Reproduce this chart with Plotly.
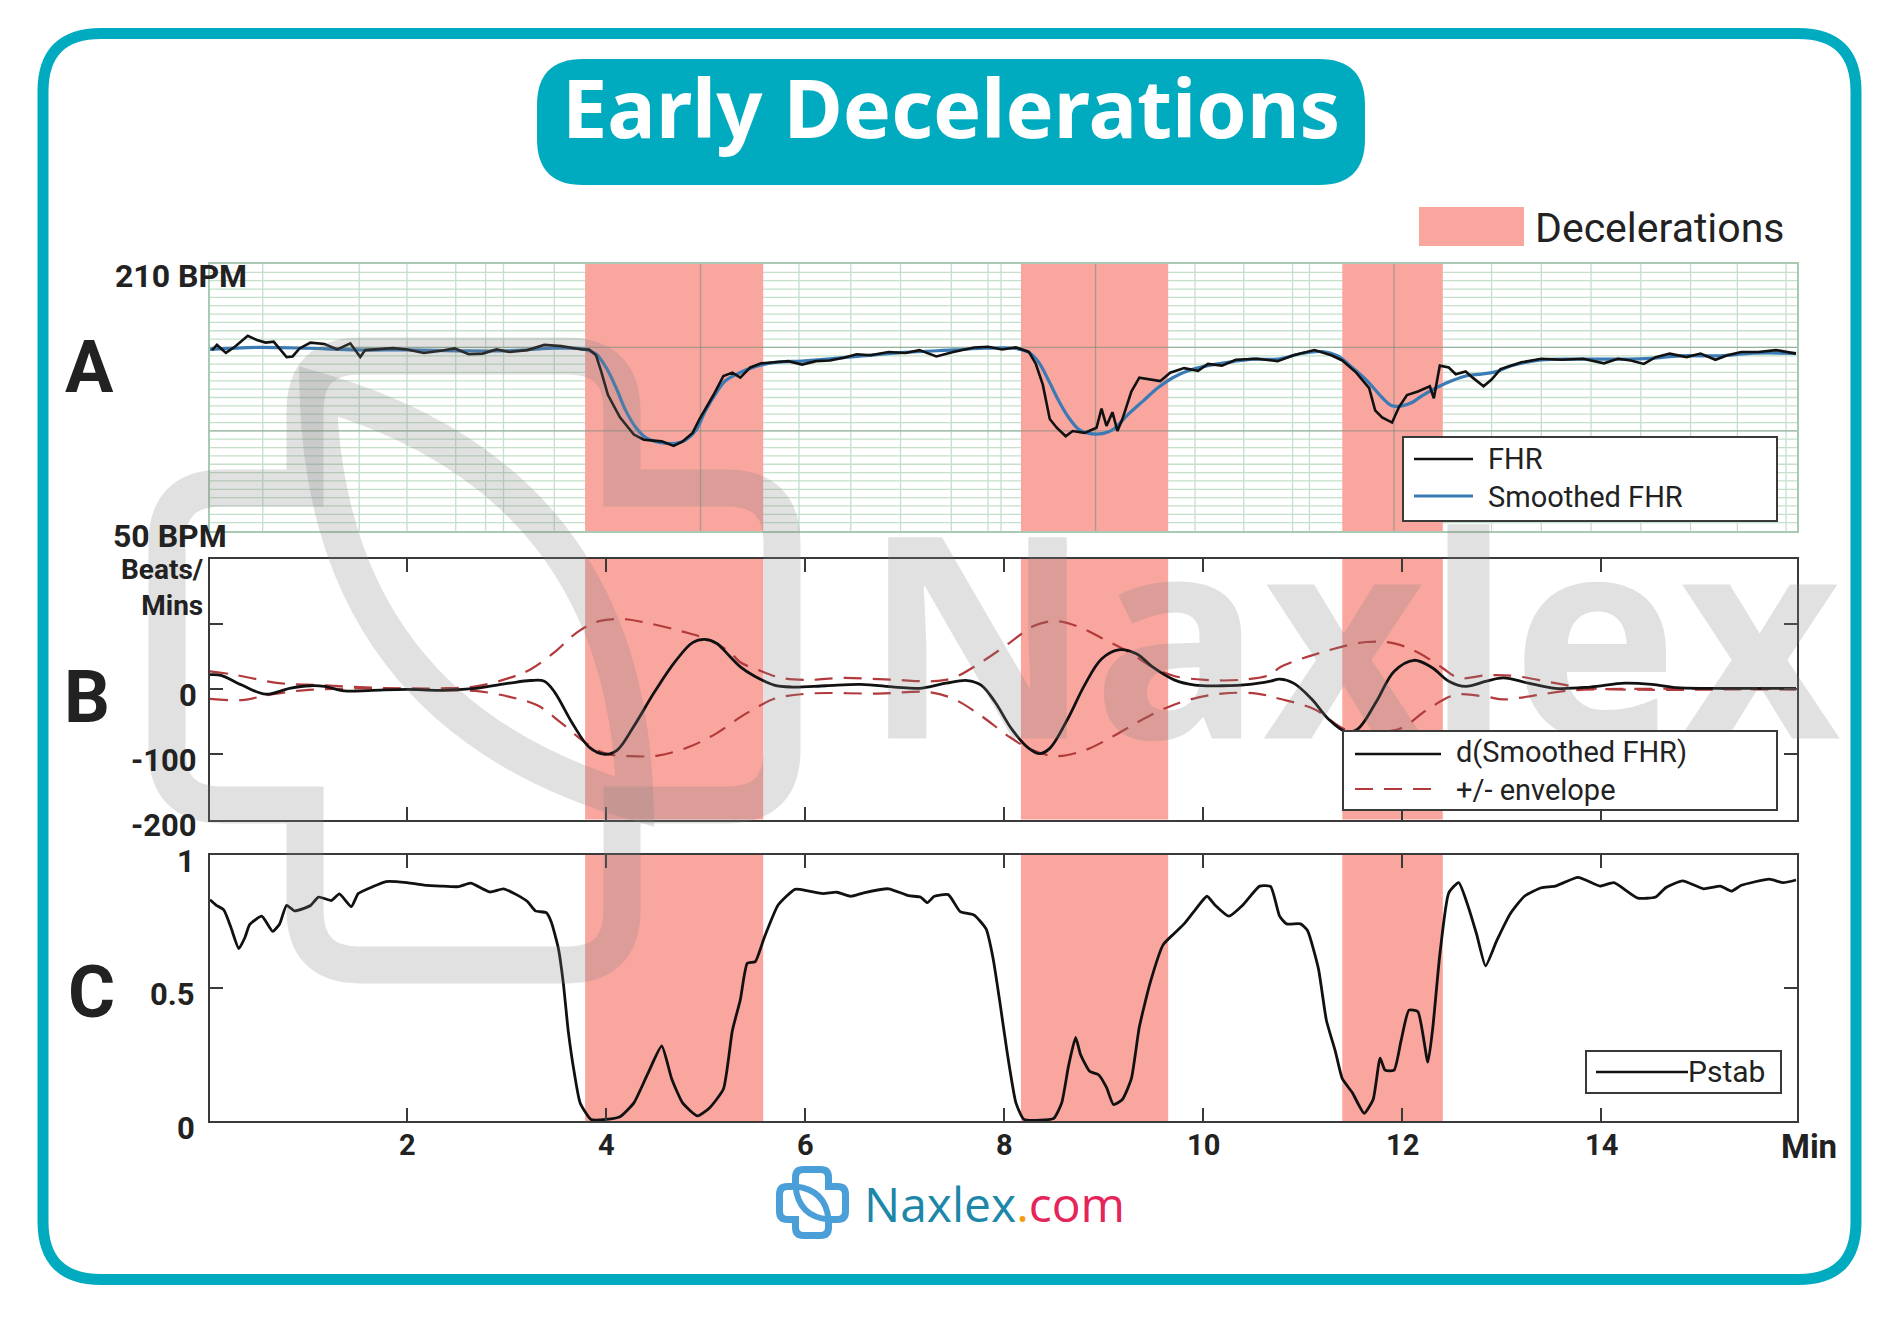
import plotly.graph_objects as go

W, H = 1902, 1333          # size of the reference picture
OFF = 8                    # the page body margin the browser adds round the figure
FW, FH = W - 2 * OFF, H - 2 * OFF

# ---- data (minutes / bpm / bpm per min / probability) ----
DECEL_START = [3.79, 8.17, 11.40]
DECEL_END = [5.58, 9.65, 12.41]

FHR_T = [0.04, 0.09, 0.18, 0.27, 0.40, 0.49, 0.58, 0.66, 0.79, 0.85, 0.92, 1.03, 1.17, 1.30,
         1.43, 1.53, 1.58, 1.72, 1.86, 2.00, 2.17, 2.34, 2.48, 2.62, 2.76, 2.90, 3.03, 3.21,
         3.38, 3.55, 3.76, 3.83, 3.90, 3.95, 4.02, 4.14, 4.28, 4.38, 4.56, 4.68, 4.77, 4.87,
         4.94, 5.08, 5.18, 5.27, 5.35, 5.45, 5.56, 5.69, 5.83, 5.97, 6.11, 6.25, 6.39, 6.52,
         6.66, 6.84, 7.01, 7.15, 7.32, 7.49, 7.70, 7.84, 7.98, 8.12, 8.25, 8.32, 8.39, 8.46,
         8.53, 8.62, 8.69, 8.81, 8.93, 8.98, 9.03, 9.09, 9.14, 9.19, 9.28, 9.36, 9.47, 9.57,
         9.67, 9.81, 9.95, 10.05, 10.19, 10.33, 10.54, 10.75, 10.91, 11.12, 11.29, 11.40,
         11.54, 11.67, 11.73, 11.80, 11.90, 11.97, 12.05, 12.16, 12.28, 12.32, 12.38, 12.47,
         12.54, 12.64, 12.71, 12.82, 12.90, 12.99, 13.20, 13.40, 13.61, 13.82, 14.03, 14.17,
         14.30, 14.43, 14.55, 14.69, 14.86, 15.00, 15.15, 15.27, 15.41, 15.58, 15.76, 15.96]
FHR_V = [158.4, 161.5, 156.7, 160.4, 167.0, 164.5, 162.9, 163.5, 154.2, 154.6, 159.4, 162.9,
         162.1, 158.8, 162.5, 154.2, 158.4, 158.8, 159.6, 158.8, 156.7, 158.0, 159.4, 155.9,
         156.3, 158.8, 157.3, 158.4, 161.5, 160.8, 158.8, 158.8, 155.3, 146.0, 131.5, 118.1,
         107.8, 104.7, 103.7, 101.0, 103.7, 108.8, 117.1, 131.5, 142.9, 144.9, 141.9, 148.0,
         150.5, 151.1, 151.8, 149.7, 151.8, 152.2, 153.8, 155.9, 155.3, 157.3, 156.7, 158.4,
         154.6, 157.3, 160.0, 160.4, 158.8, 160.0, 157.3, 150.1, 137.7, 117.1, 111.9, 106.8,
         109.9, 108.8, 111.9, 123.3, 113.0, 121.2, 109.9, 117.1, 133.6, 141.9, 140.8, 139.8,
         144.9, 147.6, 146.0, 150.1, 149.1, 152.6, 153.2, 151.8, 155.3, 158.4, 155.3, 152.2,
         144.9, 135.6, 122.3, 118.1, 115.0, 124.3, 131.5, 133.6, 136.7, 129.5, 149.1, 148.0,
         143.9, 145.6, 141.9, 136.7, 140.8, 147.0, 151.1, 153.2, 152.6, 153.2, 150.5, 153.2,
         152.2, 150.1, 154.2, 156.3, 154.2, 156.3, 152.6, 155.3, 157.3, 157.3, 158.4, 156.3]

SMOOTH_T = [0.02, 0.5, 1.0, 1.5, 2.0, 2.5, 3.0, 3.5, 3.78, 3.9, 4.0, 4.1, 4.2, 4.3, 4.4, 4.55,
            4.7, 4.8, 4.9, 5.0, 5.1, 5.2, 5.35, 5.5, 5.7, 6.0, 6.5, 7.0, 7.5, 7.8, 8.1, 8.25,
            8.35, 8.45, 8.55, 8.65, 8.75, 8.85, 9.0, 9.1, 9.25, 9.4, 9.55, 9.7, 9.85, 10.0,
            10.3, 10.5, 10.75, 11.0, 11.2, 11.35, 11.5, 11.65, 11.8, 11.9, 12.0, 12.1, 12.2,
            12.35, 12.5, 12.65, 12.8, 12.95, 13.1, 13.4, 13.8, 14.2, 14.5, 14.8, 15.2, 15.5,
            15.96]
SMOOTH_V = [158.8, 160.0, 159.5, 158.5, 158.5, 158.0, 158.0, 159.5, 159.0, 156.0, 148.0, 136.0,
            122.0, 112.0, 106.0, 103.0, 102.5, 104.5, 110.0, 122.0, 132.0, 140.0, 145.0, 148.5,
            151.0, 152.0, 154.5, 157.0, 158.5, 159.5, 159.5, 157.0, 151.0, 140.0, 128.0, 118.0,
            111.0, 108.5, 108.5, 111.0, 120.0, 128.0, 136.0, 142.0, 146.0, 148.5, 151.5, 153.0,
            153.0, 156.5, 157.5, 155.0, 148.0, 140.0, 130.0, 125.0, 125.0, 127.0, 131.0, 136.0,
            140.0, 143.0, 144.0, 145.5, 149.0, 152.5, 153.0, 153.0, 153.5, 155.0, 155.0, 156.5,
            156.5]

D_T = [0.02, 0.13, 0.34, 0.58, 0.82, 1.03, 1.17, 1.37, 1.65, 2.00, 2.34, 2.69, 3.03, 3.24,
       3.38, 3.48, 3.66, 3.83, 3.99, 4.11, 4.28, 4.49, 4.70, 4.87, 4.99, 5.11, 5.25, 5.35,
       5.49, 5.69, 5.87, 6.21, 6.56, 6.90, 7.15, 7.42, 7.63, 7.77, 7.91, 8.08, 8.25, 8.36,
       8.46, 8.64, 8.81, 8.98, 9.15, 9.33, 9.50, 9.71, 9.92, 10.19, 10.47, 10.68, 10.77,
       10.91, 11.09, 11.26, 11.43, 11.55, 11.74, 11.92, 12.12, 12.30, 12.47, 12.64, 12.85,
       13.02, 13.27, 13.54, 13.89, 14.24, 14.51, 14.75, 15.10, 15.62, 15.96]
D_V = [22, 21, 6, -8, 1, 5, 4, -3, -2, -0.5, -2, 1, 9, 13, 12, -4, -52, -89, -100, -94, -57,
       -4, 43, 71, 76, 70, 49, 34, 20, 6, 3, 5, 7, 3, 1, 9, 13, 6, -20, -62, -91, -99, -91,
       -46, 6, 46, 60, 54, 33, 14, 6, 5, 7, 12, 15, 9, -15, -46, -65, -62, -20, 27, 44, 33,
       12, 4, 12, 17, 9, 1, 3, 9, 7, 2, 1, 1, 1]

ENV_UP_T = [0.02, 0.26, 0.71, 1.13, 1.65, 2.00, 2.34, 2.69, 3.03, 3.24, 3.48, 3.72, 3.93,
            4.18, 4.42, 4.77, 5.04, 5.25, 5.35, 5.55, 5.76, 6.04, 6.38, 6.90, 7.29, 7.49, 7.77,
            8.05, 8.29, 8.50, 8.74, 9.02, 9.26, 9.50, 9.71, 10.02, 10.37, 10.68, 10.77, 11.19,
            11.64, 11.92, 12.16, 12.40, 12.57, 12.85, 13.13, 13.54, 13.89, 15.96]
ENV_UP_V = [27, 22, 9, 6, 2, 1, 1, 4, 17, 30, 56, 88, 104, 107, 101, 88, 75, 56, 41, 28, 17,
            14, 17, 14, 12, 17, 41, 70, 96, 104, 96, 75, 56, 33, 20, 14, 14, 22, 33, 56, 72,
            70, 56, 33, 17, 21, 20, 9, 1, 1]

ENV_LO_T = [0.02, 0.34, 0.61, 0.96, 1.65, 2.34, 2.69, 3.03, 3.31, 3.55, 3.80, 4.00, 4.25,
            4.52, 4.83, 5.11, 5.35, 5.52, 5.69, 6.04, 6.73, 7.25, 7.49, 7.77, 8.05, 8.29, 8.53,
            8.81, 9.09, 9.33, 9.57, 9.85, 10.19, 10.54, 10.77, 11.12, 11.43, 11.70, 11.99,
            12.26, 12.54, 12.85, 13.02, 13.37, 13.72, 15.96]
ENV_LO_V = [-15, -17, -9, -2, 1, -2, -3, -12, -25, -52, -83, -99, -103, -102, -89, -68, -43,
            -28, -15, -7, -7, -5, -15, -41, -73, -94, -103, -94, -73, -52, -33, -17, -7, -7,
            -15, -31, -62, -66, -60, -31, -9, -12, -16, -9, -2, -1]

PSTAB_T = [0.02, 0.08, 0.16, 0.23, 0.31, 0.37, 0.42, 0.54, 0.65, 0.72, 0.79, 0.87, 1.03, 1.11,
           1.24, 1.32, 1.44, 1.51, 1.65, 1.79, 2.00, 2.17, 2.34, 2.52, 2.64, 2.83, 2.97, 3.10,
           3.21, 3.29, 3.40, 3.45, 3.52, 3.57, 3.62, 3.68, 3.74, 3.85, 4.00, 4.14, 4.28, 4.42,
           4.56, 4.66, 4.77, 4.92, 5.04, 5.18, 5.27, 5.35, 5.42, 5.50, 5.59, 5.73, 5.90, 6.04,
           6.18, 6.32, 6.46, 6.59, 6.84, 7.04, 7.16, 7.23, 7.30, 7.44, 7.56, 7.70, 7.82, 7.89,
           7.96, 8.03, 8.12, 8.20, 8.36, 8.50, 8.58, 8.65, 8.72, 8.77, 8.86, 8.95, 9.03, 9.10,
           9.19, 9.28, 9.36, 9.47, 9.60, 9.71, 9.81, 9.92, 10.04, 10.12, 10.26, 10.40, 10.57,
           10.68, 10.77, 10.84, 10.98, 11.05, 11.16, 11.24, 11.33, 11.40, 11.50, 11.62, 11.71,
           11.78, 11.83, 11.92, 11.99, 12.07, 12.16, 12.26, 12.31, 12.38, 12.47, 12.57, 12.66,
           12.75, 12.84, 12.95, 13.09, 13.23, 13.40, 13.54, 13.77, 13.99, 14.13, 14.37, 14.55,
           14.65, 14.82, 15.03, 15.20, 15.31, 15.41, 15.69, 15.83, 15.96]
PSTAB_V = [0.832, 0.812, 0.793, 0.728, 0.648, 0.689, 0.739, 0.770, 0.713, 0.741, 0.811, 0.790,
           0.810, 0.842, 0.829, 0.854, 0.806, 0.855, 0.880, 0.900, 0.896, 0.887, 0.883, 0.881,
           0.894, 0.861, 0.873, 0.851, 0.825, 0.790, 0.783, 0.748, 0.651, 0.521, 0.340, 0.184,
           0.068, 0.006, 0.006, 0.016, 0.068, 0.178, 0.282, 0.159, 0.068, 0.019, 0.049, 0.120,
           0.340, 0.456, 0.593, 0.599, 0.689, 0.812, 0.871, 0.864, 0.855, 0.860, 0.845, 0.858,
           0.873, 0.847, 0.842, 0.821, 0.845, 0.851, 0.787, 0.774, 0.722, 0.612, 0.443, 0.262,
           0.068, 0.006, 0.003, 0.010, 0.068, 0.210, 0.314, 0.249, 0.187, 0.174, 0.126, 0.062,
           0.081, 0.159, 0.353, 0.521, 0.663, 0.705, 0.741, 0.793, 0.845, 0.812, 0.770, 0.812,
           0.883, 0.881, 0.770, 0.741, 0.741, 0.716, 0.573, 0.379, 0.262, 0.159, 0.107, 0.029,
           0.081, 0.236, 0.191, 0.191, 0.301, 0.417, 0.411, 0.221, 0.353, 0.625, 0.858, 0.896,
           0.812, 0.702, 0.583, 0.676, 0.780, 0.845, 0.877, 0.883, 0.916, 0.883, 0.896, 0.838,
           0.842, 0.877, 0.903, 0.873, 0.883, 0.864, 0.886, 0.909, 0.896, 0.906]

X_TICKS = [2, 4, 6, 8, 10, 12, 14]
B_TICKS = [-200, -100, 0]
C_TICKS = [0, 0.5, 1]
C_TICKTEXT = ["0", "0.5", "1"]

# chart-paper grid of panel A
A_VGRID = [0.55, 1.52, 2.0, 2.49, 2.79, 2.97, 3.48, 5.94, 6.46, 6.96, 7.47, 7.84, 7.97,
           8.92, 9.92, 10.41, 10.9, 11.07, 11.92, 12.9, 13.4, 13.9, 14.4, 14.9, 15.37, 15.86]
A_HGRID = list(range(55, 210, 5))
A_MAJOR_V = [4.95, 8.92, 11.92]
A_MAJOR_H = [110, 160]

# ---- style ----
FONT = "Roboto, Liberation Sans, sans-serif"
TEAL = "#00abc0"
BAND = "#f9a69f"
INK = "#222222"
FRAME = "#3a3a3a"
WMARK = "rgba(128,128,128,0.24)"
GRID = "#c4dfca"

X0, X1 = (210 - 208) / 99.5, (1797 - 208) / 99.5


def px(x):
    return (x - OFF) / FW


def py(y):
    return 1 - (y - OFF) / FH


def P(x, y):
    return f"{px(x):.5f},{py(y):.5f}"


def rrect(x0, y0, x1, y1, r):
    return (f"M{P(x0 + r, y0)} L{P(x1 - r, y0)} Q{P(x1, y0)} {P(x1, y0 + r)} "
            f"L{P(x1, y1 - r)} Q{P(x1, y1)} {P(x1 - r, y1)} L{P(x0 + r, y1)} "
            f"Q{P(x0, y1)} {P(x0, y1 - r)} L{P(x0, y0 + r)} Q{P(x0, y0)} {P(x0 + r, y0)} Z")


def plus_path(vx0, vx1, vy0, vy1, hx0, hx1, hy0, hy1, r):
    s = f"M{P(vx0, vy0 + r)} Q{P(vx0, vy0)} {P(vx0 + r, vy0)} L{P(vx1 - r, vy0)} Q{P(vx1, vy0)} {P(vx1, vy0 + r)}"
    s += f" L{P(vx1, hy0)} L{P(hx1 - r, hy0)} Q{P(hx1, hy0)} {P(hx1, hy0 + r)} L{P(hx1, hy1 - r)} Q{P(hx1, hy1)} {P(hx1 - r, hy1)}"
    s += f" L{P(vx1, hy1)} L{P(vx1, vy1 - r)} Q{P(vx1, vy1)} {P(vx1 - r, vy1)} L{P(vx0 + r, vy1)} Q{P(vx0, vy1)} {P(vx0, vy1 - r)}"
    s += f" L{P(vx0, hy1)} L{P(hx0 + r, hy1)} Q{P(hx0, hy1)} {P(hx0, hy1 - r)} L{P(hx0, hy0 + r)} Q{P(hx0, hy0)} {P(hx0 + r, hy0)}"
    s += f" L{P(vx0, hy0)} Z"
    return s


def lens_path(ax, ay, bx, by, bulge):
    mx, my = (ax + bx) / 2, (ay + by) / 2
    dx, dy = bx - ax, by - ay
    n = (dx * dx + dy * dy) ** 0.5
    ux, uy = dy / n, -dx / n
    c1 = (mx + ux * bulge, my + uy * bulge)
    c2 = (mx - ux * bulge, my - uy * bulge)
    return f"M{P(ax, ay)} Q{P(*c1)} {P(bx, by)} Q{P(*c2)} {P(ax, ay)} Z"


fig = go.Figure()

# panel A
fig.add_trace(go.Scatter(x=SMOOTH_T, y=SMOOTH_V, mode="lines", line=dict(color="#3a7bb6", width=3.2, shape="spline"),
                         xaxis="x", yaxis="y"))
fig.add_trace(go.Scatter(x=FHR_T, y=FHR_V, mode="lines", line=dict(color="#111111", width=2.6),
                         xaxis="x", yaxis="y"))
# panel B
for t, v in ((ENV_UP_T, ENV_UP_V), (ENV_LO_T, ENV_LO_V)):
    fig.add_trace(go.Scatter(x=t, y=v, mode="lines", xaxis="x2", yaxis="y2",
                             line=dict(color="#b33a3c", width=2.2, dash="18px,11px", shape="spline")))
fig.add_trace(go.Scatter(x=D_T, y=D_V, mode="lines", line=dict(color="#111111", width=2.8, shape="spline"),
                         xaxis="x2", yaxis="y2"))
# panel C
fig.add_trace(go.Scatter(x=PSTAB_T, y=PSTAB_V, mode="lines", xaxis="x3", yaxis="y3",
                         line=dict(color="#111111", width=2.8, shape="spline", smoothing=0.5)))
# watermark word on a full-page overlay axis (page pixel coordinates)
fig.add_trace(go.Scatter(x=[1352], y=[668], mode="text", text=["Naxlex"], xaxis="x4", yaxis="y4",
                         textfont=dict(family="Open Sans", size=282, color=WMARK, weight="bold"),
                         textposition="middle center", hoverinfo="skip"))

shapes = []
# outer frame and title badge
shapes.append(dict(type="path", path=rrect(43, 33.5, 1856, 1279.5, 58), xref="paper", yref="paper",
                   line=dict(color=TEAL, width=11), layer="below"))
shapes.append(dict(type="path", path=rrect(537, 59, 1365, 185, 46), xref="paper", yref="paper",
                   fillcolor=TEAL, line=dict(width=0), layer="below"))

# chart-paper grid of panel A, then the bands over it
for v in A_VGRID:
    shapes.append(dict(type="line", xref="x", yref="y domain", x0=v, x1=v, y0=0, y1=1,
                       line=dict(color=GRID, width=1.3), layer="below"))
for v in A_HGRID:
    shapes.append(dict(type="line", xref="x domain", yref="y", x0=0, x1=1, y0=v, y1=v,
                       line=dict(color=GRID, width=1.3), layer="below"))
for xa, ya in (("x", "y"), ("x2", "y2"), ("x3", "y3")):
    for s, e in zip(DECEL_START, DECEL_END):
        shapes.append(dict(type="rect", xref=xa, yref=f"{ya} domain", x0=s, x1=e, y0=0, y1=1,
                           fillcolor=BAND, line=dict(width=0), layer="below"))
for v in A_MAJOR_V:
    shapes.append(dict(type="line", xref="x", yref="y domain", x0=v, x1=v, y0=0, y1=1,
                       line=dict(color="rgba(110,140,120,0.55)", width=1.3), layer="below"))
for v in A_MAJOR_H:
    shapes.append(dict(type="line", xref="x domain", yref="y", x0=0, x1=1, y0=v, y1=v,
                       line=dict(color="rgba(110,140,120,0.55)", width=1.3), layer="below"))
# leader under "50 BPM"
shapes.append(dict(type="line", xref="paper", yref="paper", x0=px(245), x1=px(210), y0=py(532), y1=py(532),
                   line=dict(color="#b9d3bf", width=2), layer="below"))

# big watermark logo
shapes.append(dict(type="path", xref="paper", yref="paper", layer="above",
                   path=plus_path(305, 622, 356, 965, 167, 782, 488, 805, 55), line=dict(color=WMARK, width=37)))
shapes.append(dict(type="path", xref="paper", yref="paper", layer="above",
                   path=lens_path(318, 391, 635, 802, 190), line=dict(color=WMARK, width=37)))

# top "Decelerations" key
shapes.append(dict(type="rect", xref="paper", yref="paper", x0=px(1419), x1=px(1524), y0=py(246), y1=py(207),
                   fillcolor=BAND, line=dict(width=0), layer="above"))

# legend boxes
for x0, y0, x1, y1 in ((1403, 437, 1777, 521), (1343, 731, 1777, 810), (1586, 1051, 1781, 1093)):
    shapes.append(dict(type="rect", xref="paper", yref="paper", x0=px(x0), x1=px(x1), y0=py(y1), y1=py(y0),
                       fillcolor="white", line=dict(color=FRAME, width=2), layer="above"))
for x0, x1, yy, col, dash, wd in ((1414, 1473, 459, "#111111", "solid", 2.5),
                                  (1414, 1473, 496, "#3a7bb6", "solid", 3),
                                  (1355, 1441, 754, "#111111", "solid", 2.5),
                                  (1355, 1441, 789, "#b33a3c", "18px,11px", 2),
                                  (1596, 1688, 1072, "#111111", "solid", 2.5)):
    shapes.append(dict(type="line", xref="paper", yref="paper", x0=px(x0), x1=px(x1), y0=py(yy), y1=py(yy),
                       line=dict(color=col, width=wd, dash=dash), layer="above"))

# small logo at the bottom
shapes.append(dict(type="path", xref="paper", yref="paper", layer="above",
                   path=plus_path(795.5, 828.5, 1169.5, 1235.5, 779.5, 845.5, 1186.5, 1219.5, 8),
                   line=dict(color="#4a9fd9", width=7)))
shapes.append(dict(type="path", xref="paper", yref="paper", layer="above",
                   path=lens_path(795.5, 1186.5, 828.5, 1219.5, 19), line=dict(color="#4a9fd9", width=6)))

ann = []


def label(x, y, text, size, anchor="center", color=INK, family=FONT, weight="bold", xref="paper", yref="paper",
          yshift=0):
    ann.append(dict(x=x, y=y, xref=xref, yref=yref, text=text, showarrow=False, xanchor=anchor, yanchor="middle",
                    yshift=yshift, align=anchor if anchor != "center" else "center",
                    font=dict(family=family, size=size, color=color, weight=weight)))


label(px(951), py(106), "Early Decelerations", 81, color="white", family="Noto Sans")
label(px(1533), py(228), "Decelerations", 41, anchor="left", weight="normal")
label(px(89), py(367), "A", 72)
label(px(87), py(697), "B", 72)
label(px(91), py(992), "C", 72)
label(px(249), py(276), "210 BPM", 32, anchor="right")
label(px(229), py(536), "50 BPM", 32, anchor="right")
label(px(206), py(588), "Beats/<br>Mins", 28, anchor="right")
for v in B_TICKS:
    label(px(199), v, f"{v:g}", 31, anchor="right", yref="y2", yshift=-6)
for v, t in zip(C_TICKS, C_TICKTEXT):
    label(px(197), v, t, 31, anchor="right", yref="y3", yshift=-7)
for v in X_TICKS:
    label(v, py(1145), str(v), 29, xref="x3")
label(px(1809), py(1146), "Min", 33)
label(px(1486), py(478), "FHR<br>Smoothed FHR", 29, anchor="left", weight="normal")
label(px(1454), py(771), "d(Smoothed FHR)<br>+/- envelope", 29, anchor="left", weight="normal")
label(px(1686), py(1071), "Pstab", 30, anchor="left", weight="normal")
label(px(862), py(1203),
      "<span style='color:#1d87a9'>Naxlex</span><span style='color:#f39c12'>.</span>"
      "<span style='color:#e5245a'>com</span>", 48, anchor="left", family="Open Sans", weight="normal")

dom_x = [px(210), px(1797)]
frame = dict(showline=True, mirror="ticks", linecolor=FRAME, linewidth=2, ticks="inside", ticklen=13,
             tickcolor=FRAME, tickwidth=1.6, showticklabels=False, showgrid=False, zeroline=False)

fig.update_layout(
    width=FW, height=FH, margin=dict(l=0, r=0, t=0, b=0),
    paper_bgcolor="white", plot_bgcolor="rgba(0,0,0,0)", showlegend=False,
    xaxis=dict(domain=dom_x, range=[X0, X1], anchor="y", showticklabels=False, showgrid=False,
               showline=True, mirror=True, linecolor="#a9c9b2", linewidth=1.5, zeroline=False),
    yaxis=dict(domain=[py(531), py(264)], range=[50, 210], anchor="x", showticklabels=False, showgrid=False,
               showline=True, mirror=True, linecolor="#a9c9b2", linewidth=1.5, zeroline=False),
    xaxis2=dict(domain=dom_x, range=[X0, X1], anchor="y2", tickvals=X_TICKS, **frame),
    yaxis2=dict(domain=[py(819.5), py(558.5)], range=[-200, 200], anchor="x2", tickvals=[-100, 0, 100], **frame),
    xaxis3=dict(domain=dom_x, range=[X0, X1], anchor="y3", tickvals=X_TICKS, **frame),
    yaxis3=dict(domain=[py(1121), py(855)], range=[0, 1], anchor="x3", tickvals=[0.5], **frame),
    xaxis4=dict(domain=[0, 1], range=[OFF, OFF + FW], anchor="y4", visible=False),
    yaxis4=dict(domain=[0, 1], range=[OFF + FH, OFF], anchor="x4", visible=False),
    shapes=shapes, annotations=ann,
)

fig.write_html("out.html")
